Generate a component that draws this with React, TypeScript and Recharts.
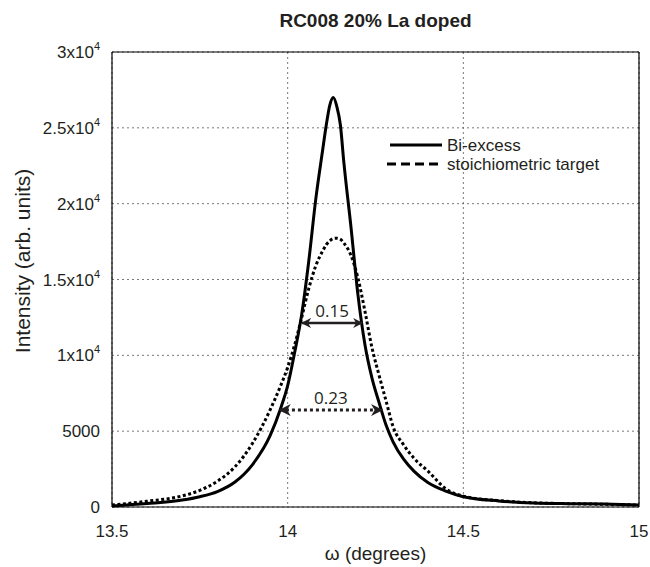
import { LineChart, Line, XAxis, YAxis, CartesianGrid, ReferenceLine } from 'recharts';

const omega = [
    13.5, 13.6, 13.7, 13.75, 13.8, 13.85, 13.9, 13.95, 13.98, 14.0, 14.02, 14.04, 14.06, 14.08, 14.1,
    14.11, 14.12, 14.13, 14.14, 14.15, 14.16, 14.18, 14.2, 14.22, 14.24, 14.26, 14.28, 14.3, 14.33,
    14.36, 14.4, 14.45, 14.5, 14.6, 14.7, 14.8, 14.9, 15.0,
];
const biExcess = [
    70, 230, 460, 680, 1020, 1650, 2800, 4700, 6500, 8000, 10200, 12700, 16200, 20300, 23600,
    25200, 26500, 27000, 26400, 25200, 22700, 18500, 14000, 10700, 8500, 6900, 5400, 4300, 3150,
    2350, 1600, 1050, 680, 400, 270, 220, 190, 130,
];
const stoichiometric = [
    130, 380, 730, 1100, 1700, 2650, 4200, 6400, 8000, 9200, 10700, 12500, 14400, 15900, 16900,
    17300, 17550, 17700, 17720, 17650, 17400, 16600, 15100, 12900, 10500, 8700, 7000, 5300, 4100,
    3200, 2350, 1200, 720, 420, 280, 220, 180, 130,
];

const xTicks = [13.5, 14, 14.5, 15];
const yTicks = [0, 5000, 10000, 15000, 20000, 25000, 30000];

// FWHM markers
const fwhmBi = { from: 14.041, to: 14.212, level: 12130, label: '0.15' };
const fwhmSt = { from: 13.978, to: 14.268, level: 6390, label: '0.23' };

const data = omega.map((x, i) => ({ x, bi: biExcess[i], st: stoichiometric[i] }));

const FONT = 'Liberation Sans, Arial, sans-serif';
const TEXT = '#231f20';

// eslint-disable-next-line @typescript-eslint/no-explicit-any
const YTick = ({ x, y, payload }: any) => {
    const v: number = payload.value;
    if (v < 10000) {
        return (
            <text x={x} y={y} dy={6} textAnchor="end" fontSize={17} fontFamily={FONT} fill={TEXT}>
                {v}
            </text>
        );
    }
    return (
        <text x={x} y={y} dy={6} textAnchor="end" fontSize={17} fontFamily={FONT} fill={TEXT}>
            {`${v / 10000}x10`}
            <tspan dy={-8} fontSize={11}>4</tspan>
        </text>
    );
};

// eslint-disable-next-line @typescript-eslint/no-explicit-any
const arrowShape = (dash?: string) => (p: any) => (
    <line
        x1={p.x1}
        y1={p.y1}
        x2={p.x2}
        y2={p.y2}
        stroke="#231f20"
        strokeWidth={dash ? 3 : 2.5}
        strokeDasharray={dash}
        markerStart="url(#arrowL)"
        markerEnd="url(#arrowR)"
    />
);

export default function App() {
    return (
        <div style={{ position: 'absolute', left: 0, top: 0, width: 650, height: 567, background: '#fff' }}>
            <div
                style={{
                    position: 'absolute', left: 112, width: 527, top: 10, textAlign: 'center',
                    fontFamily: FONT, fontWeight: 'bold', fontSize: 19, color: TEXT,
                }}
            >
                RC008 20% La doped
            </div>
            <LineChart width={650} height={567} data={data} margin={{ top: 52, right: 11, left: 12, bottom: 30 }}>
                <defs>
                    <marker id="arrowR" viewBox="0 0 10 10" refX={9} refY={5} markerWidth={4} markerHeight={4} orient="auto">
                        <path d="M0,0 L10,5 L0,10 L3,5 z" fill="#231f20" />
                    </marker>
                    <marker id="arrowL" viewBox="0 0 10 10" refX={1} refY={5} markerWidth={4} markerHeight={4} orient="auto">
                        <path d="M10,0 L0,5 L10,10 L7,5 z" fill="#231f20" />
                    </marker>
                </defs>
                <CartesianGrid stroke="#555" strokeWidth={0.8} strokeDasharray="2 3" />
                <XAxis
                    dataKey="x"
                    type="number"
                    domain={[13.5, 15]}
                    ticks={xTicks}
                    allowDataOverflow
                    height={30}
                    stroke="#000"
                    strokeWidth={1.2}
                    tickLine={false}
                    tickMargin={12}
                    tick={{ fontSize: 17, fontFamily: FONT, fill: TEXT }}
                />
                <YAxis
                    type="number"
                    domain={[0, 30000]}
                    ticks={yTicks}
                    width={100}
                    stroke="#000"
                    strokeWidth={1.2}
                    tickLine={false}
                    tickMargin={6}
                    tick={<YTick />}
                />
                <ReferenceLine y={30000} stroke="#000" strokeWidth={1.2} />
                <ReferenceLine x={15} stroke="#000" strokeWidth={1.2} />
                <Line
                    type="monotone"
                    dataKey="bi"
                    stroke="#000"
                    strokeWidth={3}
                    dot={false}
                    isAnimationActive={false}
                />
                <Line
                    type="monotone"
                    dataKey="st"
                    stroke="#000"
                    strokeWidth={3}
                    strokeDasharray="3 2.5"
                    dot={false}
                    isAnimationActive={false}
                />
                <ReferenceLine
                    segment={[{ x: fwhmBi.from, y: fwhmBi.level }, { x: fwhmBi.to, y: fwhmBi.level }]}
                    shape={arrowShape()}
                    label={{ value: fwhmBi.label, position: 'top', offset: 6, fontSize: 17, fontFamily: 'Open Sans', fill: TEXT }}
                />
                <ReferenceLine
                    segment={[{ x: fwhmSt.from, y: fwhmSt.level }, { x: fwhmSt.to, y: fwhmSt.level }]}
                    shape={arrowShape('3 3')}
                    label={{ value: fwhmSt.label, position: 'top', offset: 6, fontSize: 17, fontFamily: 'Open Sans', fill: TEXT }}
                />
            </LineChart>
            <svg style={{ position: 'absolute', left: 385, top: 133 }} width={260} height={44}>
                <line x1={5} y1={12} x2={57} y2={12} stroke="#000" strokeWidth={3} />
                <text x={62} y={18} fontSize={17} fontFamily={FONT} fill={TEXT}>Bi-excess</text>
                <line x1={2} y1={31} x2={57} y2={31} stroke="#000" strokeWidth={3} strokeDasharray="9 5" />
                <text x={62} y={37} fontSize={17} fontFamily={FONT} fill={TEXT}>stoichiometric target</text>
            </svg>
            <div
                style={{
                    position: 'absolute', left: 112, width: 527, top: 543, textAlign: 'center',
                    fontFamily: FONT, fontSize: 19, color: TEXT, lineHeight: '22px',
                }}
            >
                ω (degrees)
            </div>
            <div
                style={{
                    position: 'absolute', left: 23 - 150, top: 261 - 12, width: 300, textAlign: 'center',
                    transform: 'rotate(-90deg)', fontFamily: FONT, fontSize: 21, color: TEXT, lineHeight: '24px',
                }}
            >
                Intensity (arb. units)
            </div>
        </div>
    );
}
